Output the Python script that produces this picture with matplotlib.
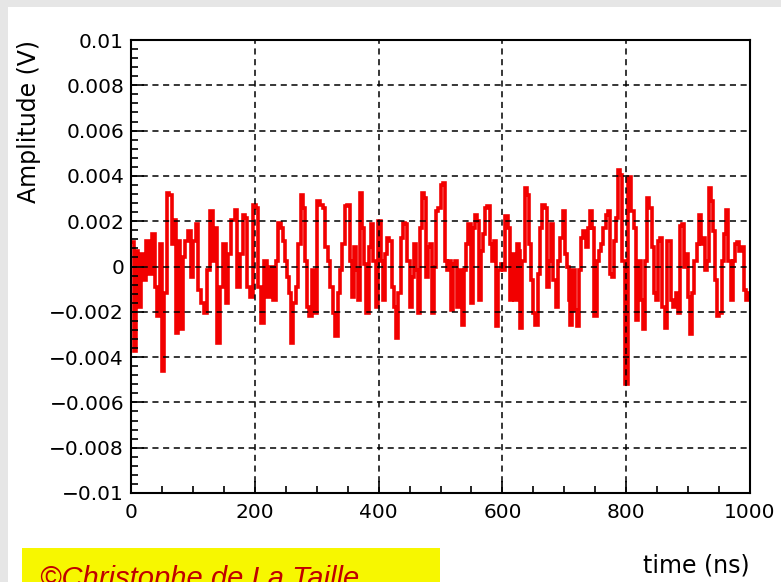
import matplotlib.pyplot as plt
from matplotlib.ticker import MultipleLocator
from matplotlib.patches import Rectangle

time_ns = [
    3.2, 5.9, 10.2, 14.0, 17.8, 22.0, 27.4, 31.7, 37.1, 40.9, 44.6, 49.0, 51.1, 55.4,
    59.7, 64.0, 67.8, 70.5, 74.8, 78.5, 81.2, 85.5, 89.3, 94.7, 98.5, 102.8, 107.1,
    110.8, 114.6, 120.0, 124.3, 129.7, 134.0, 137.7, 141.5, 145.8, 151.2, 155.5, 159.2,
    164.6, 170.0, 173.8, 178.1, 182.4, 186.2, 189.9, 195.3,
    199.7, 203.5, 207.8, 213.1, 217.4, 221.2, 226.6, 232.0, 235.7, 240.0, 244.3, 248.1,
    250.8, 253.5, 257.3, 260.5, 264.3, 268.0, 272.3, 276.1, 279.3, 283.1, 285.8, 289.5,
    293.8, 297.6, 301.9, 307.3, 311.6, 315.4, 319.7, 323.4, 327.7, 331.5, 335.8, 339.6,
    343.3, 347.6, 351.9, 355.7, 358.4, 361.1, 364.9, 368.1, 370.8, 374.5, 378.3, 382.6,
    386.4, 389.6, 393.4, 397.1,
    401.6, 405.4, 408.6, 412.4, 415.0, 419.3, 423.1, 426.9, 430.1, 433.9, 437.6, 440.9,
    444.6, 448.4, 451.6, 455.4, 459.2, 462.4, 464.5, 467.8, 471.0, 474.2, 477.4, 480.7,
    483.9, 487.7, 491.4, 494.7, 498.4, 502.2, 506.5, 509.2, 511.9, 514.6, 518.3, 521.6,
    525.3, 529.1, 532.3, 536.1, 539.9, 543.1, 546.9, 550.6, 553.8, 557.6, 560.3, 563.0,
    566.8, 570.0, 573.8, 577.5, 581.8, 584.5, 588.3, 591.5, 595.3, 599.0,
    603.5, 606.2, 610.5, 613.7, 617.0, 621.2, 625.0, 627.7, 630.4, 634.2, 637.4, 641.2,
    644.9, 648.2, 651.9, 654.6, 658.9, 662.7, 666.4, 669.7, 673.4, 676.1, 680.4, 684.2,
    688.0, 691.2, 695.0, 699.3, 703.0, 705.7, 708.4, 711.1, 714.9, 718.1, 721.9, 725.6,
    728.8, 732.6, 736.4, 739.6, 743.4, 747.1, 750.4, 754.1, 757.9, 761.1, 764.9, 768.7,
    771.9, 775.7, 779.4, 782.6, 785.9, 789.1, 792.3, 795.6, 800.5,
    804.8, 810.7, 814.4, 817.7, 821.4, 825.2, 828.4, 832.2, 834.9, 839.2, 843.0, 845.6,
    849.9, 853.7, 856.4, 860.7, 863.4, 867.2, 869.9, 873.6, 877.9, 882.2, 884.9, 888.7,
    892.4, 895.1, 898.4, 901.1, 904.8, 908.6, 911.8, 915.6, 918.8, 922.0, 925.3, 929.0,
    931.7, 935.5, 938.7, 942.5, 945.2, 948.9, 952.2, 955.9, 959.7, 962.9, 966.7, 970.5,
    973.7, 977.5, 981.2, 984.4, 988.2, 992.0, 995.2, 997.4,
]

# amplitude in mV
amp_mv = [
    1.06, -3.72, 0.70, -1.77, 0.55, -0.61, 1.13, -0.32, 1.42, -0.90, -2.20, 0.99, -4.60, -1.19,
    3.23, 3.16, 0.99, 2.07, -2.93, 1.13, -2.78, 0.41, 1.13, 1.57, -0.46, 1.13, 1.86,
    -1.04, -1.62, -2.06, -0.17, 2.43, 0.26, 1.71, -3.36, -0.90, 0.99, -1.62, 0.55,
    2.07, 2.51, -0.90, 0.55, 2.29, 2.14, -0.90, -1.33,
    2.72, 2.58, -0.90, -2.49, 0.26, -1.33, -0.03, -1.48, 0.26, 1.93, 1.71, 1.13,
    0.26, -0.46, -1.19, -3.36, -1.62, -0.90, 0.99, 3.16, 2.58, 0.26, -1.77, -2.20,
    -0.17, -2.06, 2.87, 2.72, 2.58, 0.84, 0.26, -0.90, -2.06, -3.07, -1.19, -0.17,
    0.99, 2.65, 2.72, 0.26, -1.33, 0.84, -0.17, -1.48, 3.23, 1.71, 0.12, -2.06,
    0.84, 1.86, 0.26, -1.77,
    2.00, 0.26, -1.48, 0.55, 1.28, 1.13, -0.90, -1.77, -3.14, -1.19, 1.28, 1.93,
    1.86, 0.26, -1.77, -0.46, 0.99, -0.17, -2.06, 1.71, 3.23, 3.01, -0.46, 0.84,
    0.99, -2.06, -0.03, 2.43, 2.58, 3.59, 3.67, 0.26, -0.17, 0.26, -1.91, 0.12,
    0.26, -1.77, -0.17, -2.57, -0.17, 0.99, 1.86, -1.62, 1.71, 2.29, 2.00, -1.48,
    0.70, 1.42, 2.58, 2.65, 0.99, 0.26, 1.13, -2.64, -0.17, 0.12,
    -0.17, 2.22, 1.71, -1.48, 0.55, -1.48, 0.99, 0.70, -2.71, 0.26, 3.45, 3.16,
    0.99, -0.61, -2.06, -2.57, -0.32, 1.71, 2.72, 2.58, -0.90, 0.26, 1.86, -0.61,
    -1.77, 0.26, 1.28, 2.43, 0.55, -0.03, -1.48, -2.57, -0.17, -1.91, -2.64, -0.17,
    1.28, 1.57, 0.84, 1.71, 2.43, 1.71, -2.20, 0.26, 0.70, 0.99, 1.71, 2.29,
    2.43, -0.32, -0.46, 1.13, 2.14, 4.25, 4.03, 0.26, -5.20,
    3.96, 2.43, 1.71, -2.35, 0.26, -1.48, -2.78, 0.26, 3.01, 2.58, 0.84, -1.19,
    -1.48, 1.13, 1.28, -1.77, -2.71, 1.13, 1.13, -1.48, -1.77, -1.19, -2.06, 1.78,
    1.86, -0.03, 0.55, -1.33, -3.00, -1.19, 0.26, 0.99, 2.29, 0.99, 1.28, -0.17,
    0.26, 3.45, 2.87, 1.57, -0.61, -2.20, -2.06, 0.26, 1.42, 2.51, 0.26, -1.48,
    0.26, 0.99, 1.06, 0.70, 0.84, -1.04, -1.48, -1.19,
]

amp_v = [a * 1e-3 for a in amp_mv]

x_ticks = [0, 200, 400, 600, 800, 1000]
y_ticks = [0.01, 0.008, 0.006, 0.004, 0.002, 0, -0.002, -0.004, -0.006, -0.008, -0.01]
y_tick_labels = ['0.01', '0.008', '0.006', '0.004', '0.002', '0',
                 '\u22120.002', '\u22120.004', '\u22120.006', '\u22120.008', '\u22120.01']

plt.rcParams['font.family'] = ['DejaVu Sans']

fig = plt.figure(figsize=(7.81, 5.82), dpi=100)
fig.patch.set_facecolor('white')

# light grey slide margin on the left and top
fig.patches.append(Rectangle((0, 0), 8 / 781, 1, transform=fig.transFigure,
                             facecolor='#e6e6e6', edgecolor='none', zorder=0))
fig.patches.append(Rectangle((0, 1 - 7 / 582), 1, 7 / 582, transform=fig.transFigure,
                             facecolor='#e6e6e6', edgecolor='none', zorder=0))

ax = fig.add_axes([131 / 781, 89 / 582, 619 / 781, 453 / 582])
ax.plot(time_ns, amp_v, color='#f20000', lw=2.6, drawstyle='steps-mid',
        solid_joinstyle='miter', zorder=2)

ax.set_xlim(0, 1000)
ax.set_ylim(-0.01, 0.01)
ax.set_xticks(x_ticks)
ax.set_xticklabels([str(t) for t in x_ticks])
ax.set_yticks(y_ticks)
ax.set_yticklabels(y_tick_labels)
ax.xaxis.set_minor_locator(MultipleLocator(50))
ax.yaxis.set_minor_locator(MultipleLocator(0.0004))

ax.tick_params(which='both', direction='in', top=False, right=False, width=1.2,
               labelsize=14.5, colors='black')
ax.tick_params(which='major', length=9)
ax.tick_params(which='minor', length=5)
ax.tick_params(axis='x', pad=7)
ax.tick_params(axis='y', pad=5)

ax.set_axisbelow(False)
ax.grid(True, which='major', color='black', linestyle=(0, (4, 3)), linewidth=1.1)
for sp in ax.spines.values():
    sp.set_linewidth(1.5)
    sp.set_color('black')

ax.set_ylabel('Amplitude (V)', fontsize=17, ha='right', y=1.0, labelpad=6)
fig.text(750 / 781, 1 - 566 / 582, 'time (ns)', fontsize=17, ha='right', va='center')

# copyright banner, cut by the lower edge of the slide as in the source
fig.patches.append(Rectangle((22 / 781, 0), 418 / 781, 34 / 582, transform=fig.transFigure,
                             facecolor='#f7f700', edgecolor='none', zorder=1))
fig.text(40 / 781, -5 / 582, '\u00a9Christophe de La Taille', fontsize=21,
         family='Liberation Sans', style='italic', color='#c00000',
         ha='left', va='baseline', zorder=3)

plt.savefig('out.png', dpi=100)
plt.close()
